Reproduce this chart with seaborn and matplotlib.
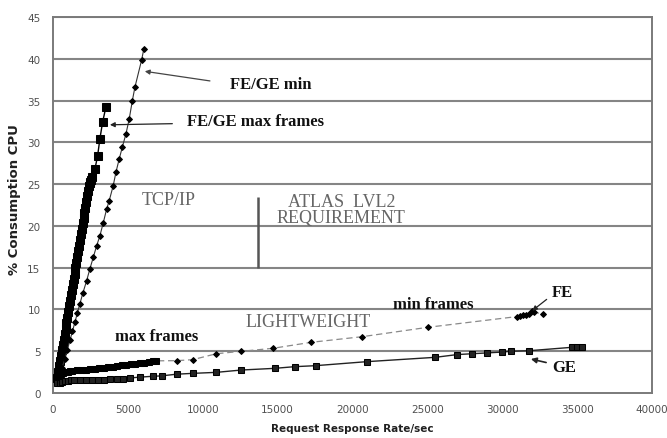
import matplotlib
matplotlib.use("Agg")
import matplotlib.pyplot as plt
import pandas as pd
import seaborn as sns

# --- measured CPU load (%) versus request/response rate (per second) ---
# TCP/IP, FE/GE, maximum frame size
tcp_max_rate = [300, 360, 420, 480, 540, 600, 660, 720, 780, 840, 900, 960, 1020, 1080,
                1140, 1200, 1260, 1320, 1380, 1440, 1500, 1560, 1620, 1680, 1740, 1800,
                1860, 1920, 1980, 2040, 2100, 2160, 2220, 2280, 2340, 2400, 2450, 2500,
                2540, 2580, 2800, 2980, 3130, 3310, 3530]
tcp_max_cpu = [1.8, 2.5, 3.2, 3.8, 4.4, 5.1, 5.7, 6.4, 7.1, 7.7, 8.4, 9.0, 9.7, 10.4,
               11.0, 11.7, 12.3, 13.0, 13.7, 14.3, 15.0, 15.6, 16.3, 17.0, 17.6, 18.3,
               19.0, 19.6, 20.3, 20.9, 21.6, 22.2, 22.9, 23.6, 24.2, 24.8, 25.1, 25.3,
               25.5, 25.8, 26.8, 28.4, 30.4, 32.4, 34.2]

# TCP/IP, FE/GE, minimum frame size
tcp_min_rate = [450, 600, 800, 950, 1130, 1300, 1470, 1630, 1800, 2000, 2240, 2470, 2700,
                2910, 3130, 3360, 3580, 3750, 4020, 4200, 4420, 4640, 4870, 5090, 5300,
                5470, 5910, 6070]
tcp_min_cpu = [2.0, 3.0, 4.1, 5.1, 6.3, 7.4, 8.5, 9.6, 10.7, 12.0, 13.4, 14.9, 16.3,
               17.6, 18.8, 20.4, 22.0, 23.0, 24.8, 26.4, 28.0, 29.5, 31.0, 32.8, 35.0,
               36.6, 39.8, 41.2]

# Lightweight protocol, FE, maximum frame size
lw_fe_max_rate = [400, 550, 700, 850, 1000, 1150, 1300, 1600, 1900, 2200, 2500, 2800,
                  3100, 3400, 3700, 4000, 4300, 4600, 4900, 5200, 5500, 5800, 6100, 6400,
                  6700, 6910]
lw_fe_max_cpu = [2.2, 2.3, 2.4, 2.5, 2.55, 2.6, 2.65, 2.7, 2.75, 2.8, 2.85, 2.9,
                 3.0, 3.05, 3.1, 3.15, 3.2, 3.3, 3.35, 3.45, 3.5, 3.6, 3.65, 3.75,
                 3.8, 3.85]

# Lightweight protocol, FE, minimum frame size
lw_fe_min_rate = [400, 6910, 8250, 9330, 10910, 12580, 14690, 17250, 20650, 25020,
                  31000, 31200, 31400, 31600, 31800, 32000, 32100, 32690]
lw_fe_min_cpu = [2.2, 3.85, 3.87, 3.99, 4.7, 4.99, 5.35, 6.07, 6.74, 7.86,
                 9.15, 9.2, 9.3, 9.35, 9.5, 9.85, 9.7, 9.45]

# Lightweight protocol, GE
lw_ge_rate = [300, 450, 600, 800, 1000, 1200, 1400, 1800, 2200, 2600, 3000, 3400, 3800,
              4250, 4700, 5130, 5800, 6670, 7250, 8250, 9330, 10910, 12580, 14800, 16130,
              17530, 20950, 25530, 27000, 28000, 29000, 30000, 30600, 31800, 34670,
              35000, 35330]
lw_ge_cpu = [1.2, 1.25, 1.35, 1.4, 1.45, 1.5, 1.5, 1.5, 1.55, 1.55, 1.6, 1.6, 1.65,
             1.65, 1.7, 1.8, 1.9, 2.0, 2.05, 2.25, 2.35, 2.47, 2.75, 2.95, 3.15,
             3.27, 3.75, 4.27, 4.6, 4.7, 4.8, 4.9, 5.0, 5.06, 5.47,
             5.5, 5.55]

x_ticks = list(range(0, 40001, 5000))
y_ticks = list(range(0, 46, 5))

sns.set_theme(style="white")
plt.rcParams["font.family"] = ["DejaVu Sans"]

fig = plt.figure(figsize=(6.67, 4.39), dpi=100)
ax_l, ax_b, ax_w, ax_h = 53 / 667, 1 - 394 / 439, (652 - 53) / 667, (394 - 18) / 439
ax = fig.add_axes([ax_l, ax_b, ax_w, ax_h])

grid_col = "#858585"
for yv in y_ticks[1:]:
    ax.axhline(yv, color=grid_col, lw=1.5, zorder=0)


def draw(rate, cpu, **kw):
    df = pd.DataFrame({"rate": rate, "cpu": cpu})
    sns.lineplot(data=df, x="rate", y="cpu", ax=ax, sort=False, estimator=None, **kw)


draw(tcp_max_rate, tcp_max_cpu, color="black", lw=1.0, marker="s", markersize=5.5,
     markeredgecolor="black", zorder=4)
draw(tcp_min_rate, tcp_min_cpu, color="#333333", lw=0.8, marker="D", markersize=3,
     markeredgecolor="black", markerfacecolor="black", zorder=4)
draw(lw_fe_min_rate, lw_fe_min_cpu, color="#8a8a8a", lw=0.9, linestyle=(0, (5, 3)),
     marker="D", markersize=3, markeredgecolor="black", markerfacecolor="black", zorder=3)
draw(lw_fe_max_rate, lw_fe_max_cpu, color="black", lw=1.2, marker="s", markersize=4.8,
     markeredgecolor="black", zorder=4)
draw(lw_ge_rate, lw_ge_cpu, color="#222222", lw=1.0, marker="s", markersize=4.5,
     markeredgecolor="black", zorder=4)

ax.set_xlim(0, 40000)
ax.set_ylim(0, 45)
ax.set_xticks(x_ticks)
ax.set_yticks(y_ticks)
ax.set_xticklabels([str(v) for v in x_ticks])
ax.set_yticklabels([str(v) for v in y_ticks])
ax.tick_params(axis="both", labelsize=7.5, labelcolor="#505050", colors="#606060",
               direction="out", length=3, width=1.0, pad=5)
ax.tick_params(axis="y", pad=6)

for side in ["left", "bottom", "right", "top"]:
    ax.spines[side].set_visible(True)
    ax.spines[side].set_color("#7a7a7a")
    ax.spines[side].set_linewidth(1.4)

ax.set_xlabel("Request Response Rate/sec", fontsize=7.5, fontweight="bold", color="#202020")
ax.set_ylabel("% Consumption CPU", fontsize=9.5, fontweight="bold", color="#202020")
ax.xaxis.set_label_coords((352 - 53) / 599, (394 - 429) / 376)
ax.yaxis.set_label_coords((15 - 53) / 599, (394 - 200) / 376)
ax.xaxis.label.set_va("center")
ax.yaxis.label.set_va("center")
ax.grid(False)

serif = ["Liberation Serif", "DejaVu Serif"]
bold_kw = dict(family=serif, fontweight="bold", fontsize=12, color="#111111")
gray_kw = dict(family=serif, fontsize=13, color="#666666")

ax.annotate("FE/GE min", xy=(6130, 38.5), xytext=(11800, 37.0), ha="left", va="center",
            arrowprops=dict(arrowstyle="-|>", color="#444444", lw=0.9, mutation_scale=7,
                            shrinkA=12, shrinkB=0, relpos=(0, 0.5)), zorder=5, **bold_kw)
ax.annotate("FE/GE max frames", xy=(3800, 32.1), xytext=(8930, 32.55), ha="left", va="center",
            arrowprops=dict(arrowstyle="-|>", color="#222222", lw=0.9, mutation_scale=7,
                            shrinkA=8, shrinkB=0, relpos=(0, 0.35)), zorder=5, **bold_kw)

ax.text(7730, 23.2, "TCP/IP", ha="center", va="center", **gray_kw)
ax.text(19250, 21.95, "ATLAS  LVL2\nREQUIREMENT", ha="center", va="center",
        linespacing=0.95, **gray_kw)
ax.vlines(13690, 15.0, 23.5, color="#555555", lw=1.8, zorder=5)
ax.text(17070, 8.53, "LIGHTWEIGHT", ha="center", va="center", **gray_kw)

ax.text(6930, 6.8, "max frames", ha="center", va="center", **bold_kw)
ax.text(25400, 10.65, "min frames", ha="center", va="center", **bold_kw)

ax.annotate("FE", xy=(32000, 9.85), xytext=(33330, 12.1), ha="left", va="center",
            arrowprops=dict(arrowstyle="-|>", color="#222222", lw=0.9, mutation_scale=7,
                            shrinkA=2, shrinkB=0, relpos=(0, 0.3)), zorder=5, **bold_kw)
ax.annotate("GE", xy=(31910, 4.07), xytext=(33330, 3.1), ha="left", va="center",
            arrowprops=dict(arrowstyle="-|>", color="#222222", lw=1.2, mutation_scale=8,
                            shrinkA=2, shrinkB=0, relpos=(0, 0.7)), zorder=5, **bold_kw)

fig.savefig("out.png", dpi=100, facecolor="white")
